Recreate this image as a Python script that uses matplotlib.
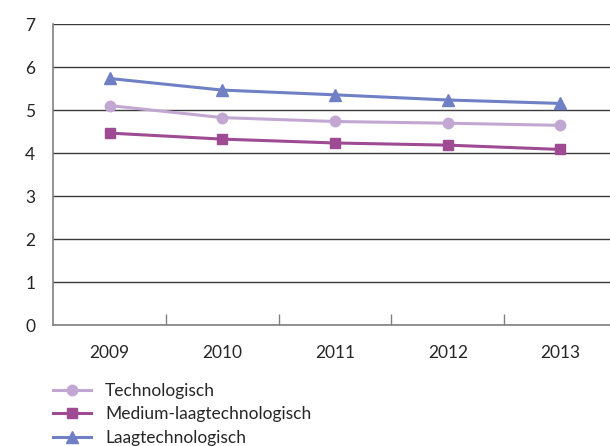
import numpy as np
import matplotlib.pyplot as plt

plt.rcParams['font.family'] = ['Lato', 'DejaVu Sans']

# Jaren en waarden per categorie
years = ['2009', '2010', '2011', '2012', '2013']
technologisch = [5.11, 4.83, 4.74, 4.70, 4.65]
medium_laag = [4.47, 4.33, 4.24, 4.19, 4.09]
laag = [5.74, 5.47, 5.36, 5.24, 5.16]

x = np.arange(len(years))

fig = plt.figure(figsize=(6.1, 4.46), dpi=100)
ax = fig.add_axes([0.0874, 0.2706, 0.9238, 0.6749])

ax.plot(x, technologisch, color='#c3a7d3', lw=2.2, marker='o', ms=7.5, label='Technologisch')
ax.plot(x, medium_laag, color='#9e4b93', lw=2.2, marker='s', ms=7.5, label='Medium-laagtechnologisch')
ax.plot(x, laag, color='#7080c4', lw=2.2, marker='^', ms=9, label='Laagtechnologisch')

ax.set_xlim(-0.5, len(years) - 0.5)
ax.set_ylim(0, 7)
ax.set_yticks(range(8))
ax.grid(axis='y', color='#3a3a3a', lw=1)
ax.set_axisbelow(True)

ax.set_xticks(x)
ax.set_xticklabels(years)
ax.set_xticks(x[:-1] + 0.5, minor=True)
ax.tick_params(axis='x', which='major', length=0, pad=14, labelsize=12.5, labelcolor='#262626')
ax.tick_params(axis='x', which='minor', length=8, direction='in', color='#808080', width=1)
ax.tick_params(axis='y', length=0, pad=13, labelsize=12.5, labelcolor='#262626')

for s in ['top', 'right']:
    ax.spines[s].set_visible(False)
for s in ['left', 'bottom']:
    ax.spines[s].set_color('#808080')
    ax.spines[s].set_linewidth(1.2)

fig.legend(loc='upper left', bbox_to_anchor=(0.087, 0.142), frameon=False,
           fontsize=12.5, handlelength=2.2, handletextpad=0.8, labelspacing=0.45,
           borderpad=0, borderaxespad=0, labelcolor='#262626')

fig.savefig('out.png', dpi=100)
